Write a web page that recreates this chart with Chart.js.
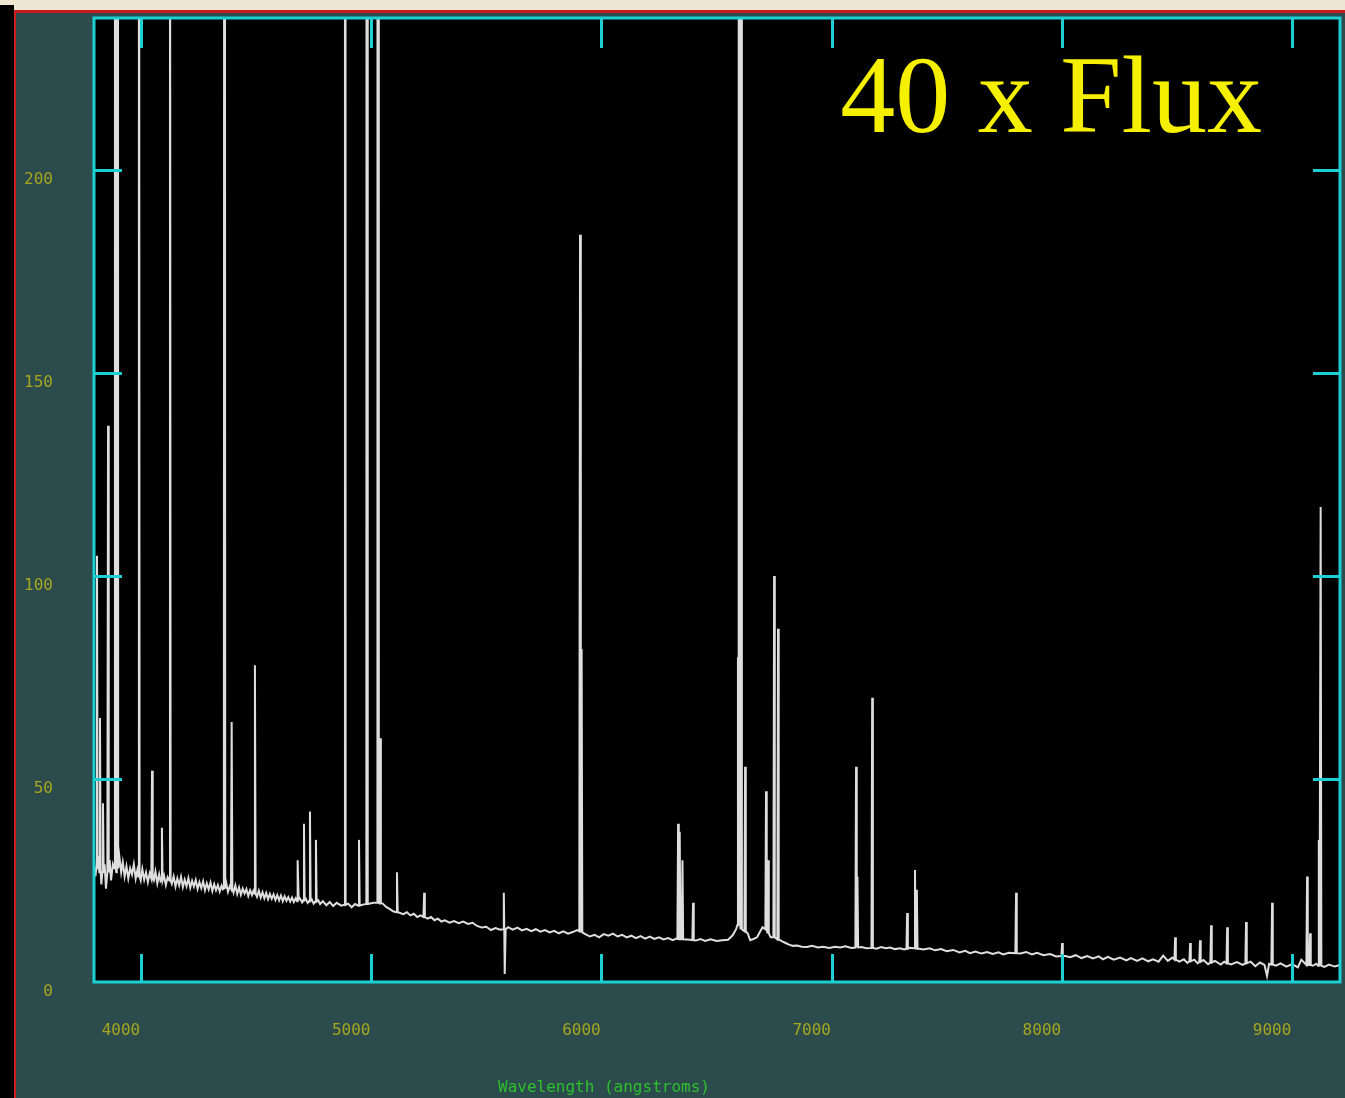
<!DOCTYPE html>
<html lang="en">
<head>
  <meta charset="UTF-8">
  <title>40 x Flux</title>
  <script src="https://cdn.jsdelivr.net/npm/chart.js"></script>
  <style>
    html, body { margin: 0; padding: 0; }
    body {
      width: 1345px;
      height: 1098px;
      overflow: hidden;
      position: relative;
      background: #efe7d3;
    }
    .side {
      position: absolute;
      left: 0; top: 5px;
      width: 14px; height: 1093px;
      background: #000;
    }
    .panel {
      position: absolute;
      left: 14px; top: 10px;
      width: 1331px; height: 1088px;
      box-sizing: border-box;
      border-top: 3px solid #c81c1c;
      border-left: 2px solid #d21d1d;
      background: #2c4b4c;
    }
    canvas { display: block; }
  </style>
</head>
<body>
  <div class="side"></div>
  <div class="panel">
    <canvas id="spectrum" width="1329" height="1085"></canvas>
  </div>

  <script>
    // continuum samples: wavelength (Angstrom) and flux
    const contWave = [
      3796, 3802, 3815, 3828, 3842, 3848, 3864, 3870, 3878, 3893,
      3906, 3914, 3921, 3929, 3937, 3945, 3953, 3961, 3969, 3977,
      3984, 3999, 4006, 4014, 4022, 4030, 4038, 4056, 4063, 4071,
      4079, 4085, 4100, 4108, 4116, 4134, 4142, 4150, 4158, 4166,
      4174, 4182, 4190, 4198, 4206, 4214, 4222, 4230, 4238, 4246,
      4254, 4262, 4270, 4278, 4286, 4294, 4302, 4310, 4318, 4326,
      4334, 4342, 4350, 4356, 4370, 4378, 4386, 4402, 4410, 4418,
      4426, 4434, 4442, 4450, 4458, 4466, 4474, 4482, 4488, 4504,
      4512, 4520, 4528, 4536, 4544, 4552, 4560, 4568, 4576, 4584,
      4592, 4600, 4608, 4616, 4624, 4632, 4640, 4648, 4656, 4664,
      4672, 4678, 4690, 4700, 4716, 4724, 4742, 4750, 4770, 4778,
      4790, 4805, 4820, 4835, 4850, 4870, 4900, 4915, 4930, 4960,
      5010, 5050, 5065, 5080, 5095, 5125, 5140, 5155, 5170, 5185,
      5200, 5215, 5245, 5260, 5275, 5290, 5305, 5320, 5340, 5360,
      5380, 5400, 5420, 5440, 5460, 5480, 5500, 5520, 5540, 5560,
      5595, 5615, 5635, 5655, 5675, 5695, 5715, 5735, 5755, 5775,
      5795, 5815, 5835, 5855, 5875, 5895, 5930, 5950, 5970, 5990,
      6010, 6030, 6050, 6070, 6090, 6110, 6130, 6150, 6170, 6190,
      6210, 6230, 6250, 6270, 6290, 6310, 6325, 6345, 6385, 6410,
      6430, 6450, 6475, 6500, 6525, 6550, 6570, 6585, 6635, 6646,
      6660, 6676, 6690, 6700, 6735, 6785, 6800, 6815, 6832, 6850,
      6870, 6893, 6915, 6940, 6963, 6990, 7015, 7037, 7060, 7085,
      7130, 7150, 7195, 7215, 7235, 7254, 7275, 7297, 7315, 7340,
      7380, 7400, 7425, 7450, 7475, 7500, 7528, 7555, 7580, 7601,
      7625, 7650, 7675, 7700, 7725, 7745, 7770, 7820, 7845, 7870,
      7892, 7920, 7949, 7975, 8015, 8036, 8060, 8085, 8110, 8135,
      8160, 8179, 8200, 8225, 8253, 8280, 8300, 8327, 8350, 8375,
      8396, 8420, 8440, 8460, 8480, 8510, 8530, 8545, 8575, 8590,
      8615, 8635, 8665, 8690, 8705, 8735, 8760, 8785, 8820, 8840,
      8860, 8880, 8891, 8900, 8930, 8950, 8975, 9000, 9025, 9040,
      9090, 9105, 9140, 9160, 9185, 9208
    ];
    const contFlux = [
      30, 26, 31, 24, 29, 23, 30, 25, 29, 27,
      31, 27, 29.5, 26, 28.5, 25.5, 28, 26.5, 29, 25.5,
      27.5, 25, 27.8, 25.2, 27, 24.6, 26.8, 25, 27.2, 24.3,
      26.5, 24.8, 26.2, 23.9, 25.8, 24.2, 26, 23.5, 25.5, 23.8,
      25.9, 23.4, 25.2, 23.6, 25.6, 23.2, 24.9, 23.5, 25.1, 22.9,
      24.6, 23.1, 24.8, 22.6, 24.3, 22.8, 24.5, 22.4, 24.1, 22.6,
      23.9, 22.3, 23.7, 22.8, 24.5, 22.2, 23.6, 22, 23.8, 21.7,
      23.3, 21.5, 23, 21.8, 22.9, 21.2, 22.6, 21.4, 22.4, 21,
      22.5, 20.8, 22.1, 20.6, 21.9, 20.4, 21.7, 20.5, 21.6, 20.2,
      21.4, 20.1, 21.3, 19.9, 21.1, 20, 20.9, 19.8, 20.8, 19.7,
      20.6, 19.9, 20.6, 19.6, 20.5, 19.5, 20.3, 19.3, 20.1, 19.2,
      19.9, 18.9, 19.7, 18.7, 19.5, 18.8, 19.3, 18.4, 19.2, 19,
      19.5, 19.3, 18.5, 18, 17.4, 17, 16.7, 17.2, 16.4, 16.8,
      16, 16.4, 15.6, 16, 15.2, 15.6, 14.9, 15.2, 14.6, 15,
      14.5, 14.9, 14.3, 14.6, 13.8, 13.4, 13.6, 12.8, 13.3, 12.9,
      13.5, 12.9, 13.4, 12.7, 13.1, 12.5, 13, 12.4, 12.8, 12.2,
      12.6, 12, 12.5, 11.9, 12.3, 12.8, 11.8, 11.2, 11.6, 11,
      11.8, 11.4, 11.9, 11.2, 11.6, 11, 11.4, 10.8, 11.3, 10.7,
      11.2, 10.6, 11, 10.5, 10.8, 10.3, 10.7, 10.5, 10.4, 10.2,
      10.6, 10.1, 10.5, 10.1, 10.3, 10.4, 11.5, 13, 12, 10.3,
      10.6, 11, 12.5, 13.5, 11, 10, 9.6, 9.2, 8.9, 9,
      8.7, 8.6, 8.9, 8.5, 8.7, 8.4, 8.7, 8.5, 8.8, 8.4,
      8.6, 8.3, 8.2, 8.6, 8.3, 8.5, 8.1, 8.3, 8, 8.4,
      8.2, 8, 8.3, 7.8, 8.1, 7.6, 7.9, 7.3, 7.7, 7.1,
      7.5, 7, 7.4, 6.9, 7.3, 6.8, 7.2, 7, 7.4, 6.8,
      7.2, 6.6, 6.9, 6.3, 6.4, 6.1, 6.6, 5.9, 6.4, 5.8,
      6.3, 5.6, 6.2, 5.5, 6, 5.3, 5.9, 5.2, 5.8, 5.1,
      5.6, 5, 6.5, 5.2, 6, 5, 5.6, 4.7, 5.5, 4.6,
      5.4, 4.4, 5.2, 4.3, 5, 4.3, 4.9, 4.2, 5, 3.9,
      4.8, 4.2, 1.5, 4.5, 4, 4.6, 3.8, 4.4, 3.6, 5.5,
      4, 4.5, 3.7, 4.3, 3.8, 4.2
    ];

    // emission lines: centre wavelength, peak flux, local continuum
    const lineWave = [
      3809, 3822, 3835, 3857, 3887, 3898, 3991, 4048, 4091, 4126,
      4363, 4394, 4495, 4682, 4708, 4734, 4760, 4886, 4947, 4982,
      5030, 5039, 5112, 5230, 5576, 5581, 5907, 5914, 6333, 6340,
      6352, 6398, 6593, 6600, 6607, 6624, 6715, 6724, 6750, 6767,
      7106, 7112, 7176, 7328, 7362, 7370, 7801, 8001, 8492, 8557,
      8600, 8648, 8718, 8800, 8913, 9065, 9078, 9116, 9124
    ];
    const linePeak = [
      105, 65, 44, 137, 600, 900, 450, 52, 38, 320,
      700, 64, 78, 30, 39, 42, 35, 1500, 35, 1200,
      2500, 60, 27, 22, 22, 2, 184, 82, 39, 37,
      30, 19.5, 80, 2000, 300, 53, 47, 30, 100, 87,
      53, 26, 70, 17, 27.6, 22.7, 22, 9.6, 11, 9.6,
      10.3, 14, 13.5, 14.8, 19.5, 26, 12, 35, 117
    ];
    const lineBase = [
      28, 27, 27, 27, 28, 28, 26, 25.5, 25, 25,
      23, 23, 21.8, 20.3, 20.2, 20, 19.8, 19, 18.8, 19.2,
      19.5, 19.4, 17.2, 16, 13, 13, 12.5, 12.2, 10.6, 10.5,
      10.5, 10.3, 14, 14, 13, 12.5, 13, 12, 11, 10.5,
      8.5, 8.5, 8.4, 8.2, 8.3, 8.2, 7.1, 6.4, 5.5, 5.1,
      5, 4.8, 4.6, 4.6, 4.3, 4.2, 4.2, 4, 4
    ];

    const waveTicks = [4000, 5000, 6000, 7000, 8000, 9000];
    const fluxTicks = [0, 50, 100, 150, 200];

    // merge continuum and line profiles into one sorted trace
    const points = contWave.map((w, i) => ({ x: w, y: contFlux[i] }));
    lineWave.forEach((w, i) => {
      points.push(
        { x: w - 3, y: lineBase[i] },
        { x: w, y: linePeak[i] },
        { x: w + 3, y: lineBase[i] }
      );
    });
    points.sort((a, b) => a.x - b.x);

    const tickColor = '#a6a61e';
    const monoFont = { family: '"DejaVu Sans Mono", monospace', size: 16 };

    // black plot area, cyan box with inward ticks, labels
    const framePlugin = {
      id: 'frame',
      beforeDatasetsDraw(chart) {
        const { ctx, chartArea: a } = chart;
        ctx.save();
        ctx.fillStyle = '#000';
        ctx.fillRect(a.left, a.top, a.right - a.left, a.bottom - a.top);
        ctx.restore();
      },
      afterDatasetsDraw(chart) {
        const { ctx, chartArea: a } = chart;
        const xs = chart.scales.x, ys = chart.scales.y;
        ctx.save();
        ctx.strokeStyle = '#1ccfd2';
        ctx.lineWidth = 3;
        ctx.strokeRect(a.left, a.top, a.right - a.left, a.bottom - a.top);
        ctx.beginPath();
        waveTicks.forEach(v => {
          const px = Math.round(xs.getPixelForValue(v)) + 0.5;
          ctx.moveTo(px, a.bottom); ctx.lineTo(px, a.bottom - 28);
          ctx.moveTo(px, a.top); ctx.lineTo(px, a.top + 30);
        });
        fluxTicks.slice(1).forEach(v => {
          const py = Math.round(ys.getPixelForValue(v)) + 0.5;
          ctx.moveTo(a.left, py); ctx.lineTo(a.left + 28, py);
          ctx.moveTo(a.right, py); ctx.lineTo(a.right - 27, py);
        });
        ctx.stroke();

        ctx.fillStyle = '#f5ef00';
        ctx.font = '110px "Liberation Serif", serif';
        ctx.textAlign = 'right';
        ctx.textBaseline = 'alphabetic';
        ctx.fillText('40 x Flux', a.right - 78, a.top + 114);

        ctx.fillStyle = '#2cc02c';
        ctx.font = '16px "DejaVu Sans Mono", monospace';
        ctx.textAlign = 'left';
        ctx.textBaseline = 'middle';
        ctx.fillText('Wavelength (angstroms)', a.left + 404, a.bottom + 106);
        ctx.restore();
      }
    };

    new Chart(document.getElementById('spectrum'), {
      type: 'line',
      data: {
        datasets: [{
          data: points,
          borderColor: '#dedede',
          borderWidth: 2,
          pointRadius: 0,
          tension: 0
        }]
      },
      options: {
        responsive: false,
        animation: false,
        layout: { padding: { top: 5, right: 5, left: 0, bottom: 0 } },
        scales: {
          x: {
            type: 'linear',
            min: 3796,
            max: 9208,
            afterBuildTicks: s => { s.ticks = waveTicks.map(v => ({ value: v })); },
            afterFit: s => {
              s.height = 116;
              s.paddingLeft = 0; s.paddingRight = 0;
              s.paddingTop = 0; s.paddingBottom = 0;
            },
            grid: { display: false },
            border: { display: false },
            ticks: {
              autoSkip: false,
              maxRotation: 0,
              color: tickColor,
              font: monoFont,
              padding: 31,
              labelOffset: -20,
              callback: v => String(v)
            }
          },
          y: {
            min: 0,
            max: 237.4,
            afterBuildTicks: s => { s.ticks = fluxTicks.map(v => ({ value: v })); },
            afterFit: s => {
              s.width = 78;
              s.paddingLeft = 0; s.paddingRight = 0;
              s.paddingTop = 0; s.paddingBottom = 0;
            },
            grid: { display: false },
            border: { display: false },
            ticks: {
              color: tickColor,
              font: monoFont,
              padding: 33,
              labelOffset: 10,
              callback: v => String(v)
            }
          }
        },
        plugins: {
          legend: { display: false },
          tooltip: { enabled: false }
        }
      },
      plugins: [framePlugin]
    });
  </script>
</body>
</html>
